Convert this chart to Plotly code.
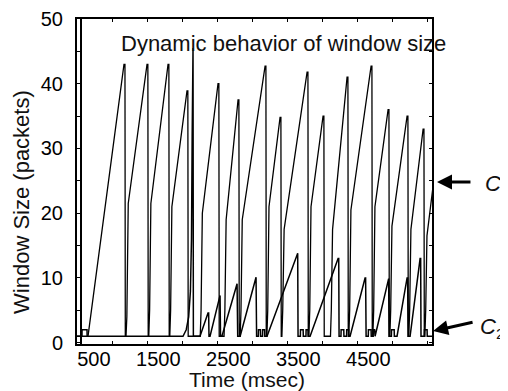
import plotly.graph_objects as go

# ---- data (time in msec, window in packets) ----
c1_time = [0, 157, 671, 685, 690, 700, 712, 722, 732, 1000, 1012, 1017, 1025, 1037, 1047, 1055,
           1300, 1312, 1317, 1325, 1337, 1347, 1355, 1571, 1583, 1588, 1760, 1772, 1782, 1790,
           2014, 2026, 2031, 2100, 2112, 2122, 2130, 2300, 2312, 2317, 2330, 2342, 2352, 2360,
           2686, 2698, 2703, 2712, 2724, 2734, 2742, 2900, 2912, 2917, 2926, 2938, 2948, 2958,
           3286, 3298, 3303, 3312, 3324, 3334, 3342, 3514, 3526, 3531, 3620, 3632, 3642, 3650,
           3857, 3869, 3874, 3882, 3894, 3904, 3912, 4200, 4212, 4217, 4225, 4237, 4247, 4255,
           4443, 4455, 4460, 4468, 4480, 4490, 4498, 4714, 4726, 4731, 4739, 4751, 4761, 4769,
           4943, 4955, 4960, 4968, 4980, 4990, 4998, 5100]
c1_window = [1, 1, 43, 43, 1, 1, 4, 11, 21.5, 43, 43, 1, 1, 5, 12, 21.5,
             43, 43, 1, 1, 5, 11, 21, 38.9, 38.9, 1, 1, 5, 12, 20,
             40, 40, 1, 1, 5, 11, 19, 37.5, 37.5, 1, 1, 5, 11, 19,
             42.7, 42.7, 1, 1, 5, 12, 21, 34.8, 34.8, 1, 1, 5, 11, 17.5,
             41.8, 41.8, 1, 1, 5, 12, 21, 35, 35, 1, 1, 5, 11, 17.5,
             41, 41, 1, 1, 5, 12, 20.5, 42.7, 42.7, 1, 1, 5, 12, 21,
             36, 36, 1, 1, 5, 11, 18, 35, 35, 1, 1, 5, 11, 17.5,
             33, 33, 1, 1, 5, 11, 16.5, 25.5]

c2_time = [0, 71, 72, 143, 145, 1514, 1560, 1595, 1620, 1635, 1645, 1650, 1657, 1662,
           1757, 1871, 1880, 1885, 1900, 2043, 2050, 2070, 2286, 2295, 2330, 2557, 2565,
           2590, 2592, 2620, 2622, 2650, 2652, 2680, 2682, 2714, 3143, 3152, 3157,
           3190, 3192, 3230, 3232, 3270, 3272, 3300, 3302, 3329, 3729, 3738, 3743,
           3770, 3772, 3810, 3812, 3850, 3852, 3880, 3882, 3900, 4114, 4122, 4129,
           4160, 4162, 4200, 4202, 4230, 4232, 4250, 4257, 4443, 4451, 4457,
           4490, 4492, 4530, 4532, 4571, 4714, 4722, 4729, 4757, 4900, 4908, 4913,
           4943, 4960, 4962, 5000, 5002, 5100]
c2_window = [1, 1, 2, 2, 1, 1, 2, 4, 8, 16, 32, 45.5, 45.5, 1,
             1, 4.6, 4.6, 1, 1, 7.3, 1, 1, 9.1, 1, 1, 10.1, 1,
             1, 2, 2, 1, 1, 2, 2, 1, 1, 13.8, 13.8, 1,
             1, 2, 2, 1, 1, 2, 2, 1, 1, 13, 13, 1,
             1, 2, 2, 1, 1, 2, 2, 1, 1, 10, 10, 1,
             1, 2, 2, 1, 1, 2, 2, 1, 9.9, 9.9, 1,
             1, 2, 2, 1, 1, 10, 10, 1, 1, 13, 13, 1,
             1, 1, 2, 2, 1, 1]

x_tick0 = 500
x_dtick = 1000
x_range = [0, 5070]
y_range = [-0.2, 50]

FONT = "Liberation Sans, Arial, sans-serif"

fig = go.Figure()
fig.add_trace(go.Scatter(x=c1_time, y=c1_window, mode="lines",
                         line=dict(color="black", width=1.3), name="C1", yaxis="y"))
fig.add_trace(go.Scatter(x=c2_time, y=c2_window, mode="lines",
                         line=dict(color="black", width=1.5), name="C2", yaxis="y2"))

axis_common = dict(showgrid=False, zeroline=False, color="black", automargin=False)

# the page body adds an 8px offset, so the figure is 8px smaller than the window
fig.update_layout(
    width=500, height=383,
    margin=dict(l=69, r=76, t=11, b=47, autoexpand=False),
    paper_bgcolor="white", plot_bgcolor="white",
    showlegend=False,
    font=dict(family=FONT, color="#111111"),
    xaxis=dict(range=x_range, tickmode="linear", tick0=x_tick0, dtick=x_dtick,
               ticks="inside", ticklen=3, tickwidth=1, tickcolor="black",
               minor=dict(ticks="inside", tick0=0, dtick=500, ticklen=3, tickcolor="black"),
               showline=True, linewidth=2, linecolor="black", mirror="ticks",
               ticklabelposition="outside left", ticklabelstandoff=-4,
               tickfont=dict(size=20), **axis_common),
    yaxis=dict(range=y_range, tickmode="linear", tick0=0, dtick=10,
               ticks="inside", ticklen=3, tickwidth=1, tickcolor="black",
               minor=dict(ticks="inside", dtick=5, ticklen=3, tickcolor="black"),
               showline=True, linewidth=2, linecolor="black", mirror="ticks",
               ticklabelstandoff=8, tickfont=dict(size=20), **axis_common),
    yaxis2=dict(range=y_range, overlaying="y", anchor="free", position=4 / 355,
                showline=True, linewidth=1.5, linecolor="black",
                showticklabels=False, ticks="", **axis_common),
)

ann = [
    dict(text="Dynamic behavior of window size", x=0.583, y=0.926, xref="paper", yref="paper",
         showarrow=False, font=dict(size=22), xanchor="center", yanchor="middle"),
    dict(text="Window Size (packets)", x=-0.155, y=0.437, xref="paper", yref="paper",
         showarrow=False, textangle=-90, font=dict(size=22), xanchor="center", yanchor="middle"),
    dict(text="Time (msec)", x=0.479, y=-0.108, xref="paper", yref="paper",
         showarrow=False, font=dict(size=21), xanchor="center", yanchor="middle"),
    # arrows
    dict(text="", x=1.014, y=0.4985, xref="paper", yref="paper", showarrow=True,
         ax=35, ay=0, arrowhead=2, arrowsize=1, arrowwidth=3, arrowcolor="black"),
    dict(text="", x=1.003, y=0.04, xref="paper", yref="paper", showarrow=True,
         ax=41, ay=-9, arrowhead=2, arrowsize=1, arrowwidth=3, arrowcolor="black"),
    dict(text="<i>C</i><sub>1</sub>", x=1.143, y=0.49, xref="paper", yref="paper",
         showarrow=False, font=dict(size=22), xanchor="left", yanchor="middle"),
    dict(text="<i>C</i><sub>2</sub>", x=1.13, y=0.05, xref="paper", yref="paper",
         showarrow=False, font=dict(size=22), xanchor="left", yanchor="middle"),
]
fig.update_layout(annotations=ann)

fig.write_html("out.html")
